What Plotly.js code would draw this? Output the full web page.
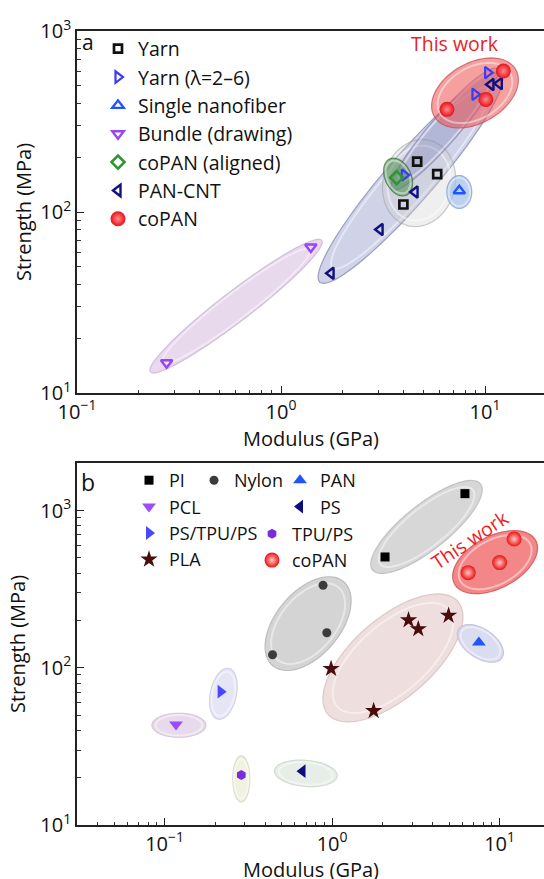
<!DOCTYPE html>
<html><head><meta charset="utf-8">
<script src="https://cdn.plot.ly/plotly-3.0.1.min.js"></script>
<style>html,body{margin:0;padding:0;overflow:hidden;background:#fff}</style>
</head><body><div id="chart"></div>
<script>
// ---------- Panel a data (Modulus GPa, Strength MPa) ----------
const aYarnX = [4.65, 5.83, 3.98];
const aYarnY = [190, 162, 110];
const aYarnLamX = [10.3, 8.93, 4.02];
const aYarnLamY = [589, 447, 160];
const aSingleX = [7.48];
const aSingleY = [131];
const aBundleX = [1.40, 0.275];
const aBundleY = [64.1, 14.7];
const aAlignedX = [3.69];
const aAlignedY = [155];
const aPanCntX = [10.7, 11.75, 4.54, 3.06, 1.76];
const aPanCntY = [506, 512, 129, 80, 45.9];
const aCoPanX = [12.3, 10.1, 6.51];
const aCoPanY = [601, 419, 369];

// ---------- Panel b data ----------
const bPIx = [2.07, 6.21];
const bPIy = [507, 1282];
const bNylonX = [0.883, 0.93, 0.441];
const bNylonY = [335, 167, 121];
const bPANx = [7.52];
const bPANy = [145];
const bPCLx = [0.117];
const bPCLy = [43.6];
const bPUx = [];
const bPUy = [];
const bPSx = [0.666];
const bPSy = [22.0];
const bPSTPUx = [0.216];
const bPSTPUy = [70.5];
const bTPUPSx = [0.287];
const bTPUPSy = [20.8];
const bPLAx = [0.986, 1.77, 2.86, 3.27, 4.96];
const bPLAy = [98.6, 53.2, 201, 176.5, 215];
const bCoPanX = [6.49, 10.0, 12.2];
const bCoPanY = [403, 467, 659];

// tick labels
const xTickVals = [0.1, 1, 10];
const xTickText = ['10<sup>\u22121</sup>', '10<sup>0</sup>', '10<sup>1</sup>'];
const yTickVals = [10, 100, 1000];
const yTickText = ['10<sup>1</sup>', '10<sup>2</sup>', '10<sup>3</sup>'];

// ---------- layout geometry ----------
const FONT = 'Open Sans, sans-serif';
const W = 548, H = 883, ML = 77, MR = 3, MT = 31, MB = 58;
const PLOT_BOTTOM = H - MB; // 825
const plotW = W - ML - MR, plotH = H - MT - MB;
const xaRange = [-1, -1 + plotW / 204];
const xbRange = [-1.523, -1.523 + plotW / 167.5];
const yaDom = [1 - 362 / plotH, 1], ybDom = [0, 362 / plotH];
const yaRange = [1, 3], ybRange = [1, 1 + 362 / 157.2];
const pxPerDec = {
  a: {x: plotW / (xaRange[1] - xaRange[0]), y: plotH * (yaDom[1] - yaDom[0]) / (yaRange[1] - yaRange[0])},
  b: {x: plotW / (xbRange[1] - xbRange[0]), y: plotH * (ybDom[1] - ybDom[0]) / (ybRange[1] - ybRange[0])}
};
const px2paperX = p => (p - ML) / plotW;
const px2paperY = p => (PLOT_BOTTOM - p) / plotH;

// ---------- highlight regions (ellipses: centre in data units, semi-axes in px, angle in deg) ----------
const regionsA = [
  {cx: 0.602, cy: 30.2, a: 108, b: 15, ang: 37.5, fill: 'rgba(226,208,232,0.8)', line: 'rgba(205,185,215,0.9)'},
  {cx: 4.31, cy: 154, a: 138, b: 24, ang: 49, fill: 'rgba(150,158,205,0.45)', line: 'rgba(120,125,170,0.7)'},
  {cx: 4.75, cy: 144.5, a: 44, b: 36, ang: 75, fill: 'rgba(210,210,210,0.35)', line: 'rgba(160,160,160,0.55)'},
  {cx: 6.33, cy: 287, a: 80, b: 14, ang: 49, fill: 'rgba(110,115,175,0.3)', line: 'rgba(100,100,160,0.45)'},
  {cx: 3.75, cy: 156, a: 20, b: 13, ang: -65, fill: 'rgba(70,140,70,0.55)', line: 'rgba(60,110,60,0.7)'},
  {cx: 7.48, cy: 129, a: 16.5, b: 12.5, ang: 90, fill: 'rgba(160,188,232,0.7)', line: 'rgba(135,165,212,0.8)'},
  {cx: 8.93, cy: 454.5, a: 47, b: 30, ang: 30, fill: 'rgba(236,80,80,0.55)', line: 'rgba(195,80,90,0.75)'}
];
const regionsB = [
  {cx: 3.66, cy: 787, a: 69, b: 22.5, ang: 38.6, fill: 'rgba(208,208,208,0.85)', line: 'rgba(190,190,190,0.9)'},
  {cx: 9.40, cy: 470, a: 46, b: 26, ang: 28, fill: 'rgba(240,105,105,0.8)', line: 'rgba(210,90,90,0.9)'},
  {cx: 0.719, cy: 191, a: 55, b: 32, ang: 50, fill: 'rgba(205,205,205,0.85)', line: 'rgba(185,185,185,0.9)'},
  {cx: 2.307, cy: 115.6, a: 86, b: 40, ang: 41, fill: 'rgba(234,214,214,0.8)', line: 'rgba(218,196,196,0.9)'},
  {cx: 7.68, cy: 143, a: 26, b: 14.5, ang: -34, fill: 'rgba(212,214,236,0.85)', line: 'rgba(192,194,222,0.9)'},
  {cx: 0.2244, cy: 68.3, a: 26, b: 13, ang: 78, fill: 'rgba(226,226,245,0.9)', line: 'rgba(206,206,232,0.9)'},
  {cx: 0.1217, cy: 43.1, a: 27, b: 12, ang: 0, fill: 'rgba(228,214,232,0.9)', line: 'rgba(210,195,218,0.9)'},
  {cx: 0.287, cy: 19.65, a: 23, b: 8.5, ang: 90, fill: 'rgba(240,240,222,0.9)', line: 'rgba(215,215,195,0.9)'},
  {cx: 0.6966, cy: 21.3, a: 31.5, b: 13, ang: -5, fill: 'rgba(228,236,228,0.9)', line: 'rgba(205,215,205,0.9)'}
];

function ellipsePath(r, sc, k) {
  const clx = Math.log10(r.cx), cly = Math.log10(r.cy), th = r.ang * Math.PI / 180;
  let s = '';
  for (let i = 0; i <= 90; i++) {
    const t = i / 90 * 2 * Math.PI;
    const ca = r.a * k * Math.cos(t), sb = r.b * k * Math.sin(t);
    const dx = ca * Math.cos(th) - sb * Math.sin(th);
    const dy = ca * Math.sin(th) + sb * Math.cos(th);
    const x = Math.pow(10, clx + dx / sc.x), y = Math.pow(10, cly + dy / sc.y);
    s += (i ? 'L' : 'M') + x.toFixed(6) + ',' + y.toFixed(6);
  }
  return s + 'Z';
}
const shapes = [];
function addRegions(list, xref, yref, sc) {
  list.forEach(r => {
    shapes.push({type: 'path', xref, yref, layer: 'below', path: ellipsePath(r, sc, 1),
      fillcolor: r.fill, line: {color: r.line, width: 1.2}});
    shapes.push({type: 'path', xref, yref, layer: 'below', path: ellipsePath(r, sc, 0.86),
      fillcolor: 'rgba(0,0,0,0)', line: {color: 'rgba(255,255,255,0.45)', width: 2}});
  });
}
addRegions(regionsA, 'x', 'y', pxPerDec.a);
addRegions(regionsB, 'x2', 'y2', pxPerDec.b);

// ---------- traces ----------
function tr(name, x, y, marker, ax, legend) {
  return {type: 'scatter', mode: 'markers', name, x, y, marker, legend,
    xaxis: ax === 'a' ? 'x' : 'x2', yaxis: ax === 'a' ? 'y' : 'y2', hoverinfo: 'x+y+name'};
}
const data = [
  tr('Yarn', aYarnX, aYarnY, {symbol: 'square-open', size: 8, color: '#111', line: {width: 2.7, color: '#111'}}, 'a', 'legend'),
  tr('Yarn (\u03bb=2\u20136)', aYarnLamX, aYarnLamY, {symbol: 'triangle-right-open', size: 10, color: '#3c3cf0', line: {width: 2.2, color: '#3c3cf0'}}, 'a', 'legend'),
  tr('Single nanofiber', aSingleX, aSingleY, {symbol: 'triangle-up-open', size: 10, color: '#1f55ff', line: {width: 2.4, color: '#1f55ff'}}, 'a', 'legend'),
  tr('Bundle (drawing)', aBundleX, aBundleY, {symbol: 'triangle-down-open', size: 10, color: '#9646f5', line: {width: 2.4, color: '#9646f5'}}, 'a', 'legend'),
  tr('coPAN (aligned)', aAlignedX, aAlignedY, {symbol: 'diamond-open', size: 10, color: '#2e962e', line: {width: 2.6, color: '#2e962e'}}, 'a', 'legend'),
  tr('PAN-CNT', aPanCntX, aPanCntY, {symbol: 'triangle-left-open', size: 10, color: '#101080', line: {width: 2.4, color: '#101080'}}, 'a', 'legend'),
  tr('coPAN', aCoPanX, aCoPanY, {symbol: 'circle', size: 15, color: '#e8101a', gradient: {type: 'radial', color: '#ff8c8c'}, line: {width: 0}}, 'a', 'legend'),

  tr('PI', bPIx, bPIy, {symbol: 'square', size: 9, color: '#000'}, 'b', 'legend2'),
  tr('PCL', bPCLx, bPCLy, {symbol: 'triangle-down', size: 12, color: '#9b4dff'}, 'b', 'legend2'),
  tr('PS/TPU/PS', bPSTPUx, bPSTPUy, {symbol: 'triangle-right', size: 12, color: '#4848ff'}, 'b', 'legend2'),
  tr('PLA', bPLAx, bPLAy, {symbol: 'star', size: 13, color: '#4a0c0c'}, 'b', 'legend2'),
  tr('Nylon', bNylonX, bNylonY, {symbol: 'circle', size: 9, color: '#3c3c3c'}, 'b', 'legend3'),
  tr('PU', bPUx, bPUy, {symbol: 'diamond', size: 11, color: '#1f9a1f'}, 'b', 'legend3'),
  tr('TPU/PS', bTPUPSx, bTPUPSy, {symbol: 'hexagon', size: 10, color: '#7a2be0'}, 'b', 'legend4'),
  tr('coPAN', bCoPanX, bCoPanY, {symbol: 'circle', size: 15, color: '#ee1111', gradient: {type: 'radial', color: '#ffc8c8'}, line: {width: 0}}, 'b', 'legend4'),
  tr('PAN', bPANx, bPANy, {symbol: 'triangle-up', size: 12, color: '#1f55ff'}, 'b', 'legend5'),
  tr('PS', bPSx, bPSy, {symbol: 'triangle-left', size: 12, color: '#0d0d80'}, 'b', 'legend5')
];

// ---------- axes ----------
const minorVals = [];
for (let d = -2; d <= 3; d++) for (let k = 2; k <= 9; k++) minorVals.push(k * Math.pow(10, d));
function axis(extra) {
  return Object.assign({
    type: 'log', showline: true, linecolor: '#222', linewidth: 1.8, mirror: true,
    ticks: 'inside', ticklen: 7, tickwidth: 1, tickcolor: '#222', showgrid: false, zeroline: false,
    tickmode: 'array', tickfont: {family: FONT, size: 20, color: '#111'},
    minor: {tickmode: 'array', tickvals: minorVals, ticks: 'inside', ticklen: 3.5, tickwidth: 1, tickcolor: '#333', showgrid: false}
  }, extra);
}
const titleFont = {family: FONT, size: 20, color: '#111'};
const legendBase = {bgcolor: 'rgba(0,0,0,0)', font: {family: FONT, size: 18, color: '#111'},
  xanchor: 'left', yanchor: 'top', tracegroupgap: 0, itemclick: false};

const layout = {
  width: W, height: H, margin: {l: ML, r: MR, t: MT, b: MB},
  paper_bgcolor: '#fff', plot_bgcolor: 'rgba(0,0,0,0)', font: {family: FONT, color: '#111'},
  showlegend: true, shapes,
  xaxis: axis({anchor: 'y', domain: [0, 1], range: xaRange, tickvals: xTickVals, ticktext: xTickText,
    title: {text: 'Modulus (GPa)', font: titleFont, standoff: 2}}),
  yaxis: axis({anchor: 'x', domain: yaDom, range: yaRange, tickvals: yTickVals, ticktext: yTickText,
    title: {text: 'Strength (MPa)', font: titleFont, standoff: 3}}),
  xaxis2: axis({anchor: 'y2', domain: [0, 1], range: xbRange, tickvals: xTickVals, ticktext: xTickText,
    ticklabelstandoff: 0, title: {text: 'Modulus (GPa)', font: titleFont, standoff: 1}}),
  yaxis2: axis({anchor: 'x2', domain: ybDom, range: ybRange, tickvals: yTickVals, ticktext: yTickText,
    title: {text: 'Strength (MPa)', font: titleFont, standoff: 9}}),
  legend: Object.assign({}, legendBase, {font: {family: FONT, size: 19.5, color: '#111'}, x: px2paperX(98), y: px2paperY(29.5)}),
  legend2: Object.assign({}, legendBase, {x: px2paperX(129), y: px2paperY(462)}),
  legend3: Object.assign({}, legendBase, {x: px2paperX(194), y: px2paperY(462)}),
  legend4: Object.assign({}, legendBase, {x: px2paperX(252), y: px2paperY(515.5)}),
  legend5: Object.assign({}, legendBase, {x: px2paperX(280), y: px2paperY(462)}),
  annotations: [
    {text: 'a', xref: 'paper', yref: 'paper', x: px2paperX(88), y: px2paperY(42), xanchor: 'center', yanchor: 'middle', showarrow: false, font: {family: FONT, size: 21, color: '#111'}},
    {text: 'b', xref: 'paper', yref: 'paper', x: px2paperX(88), y: px2paperY(482), xanchor: 'center', yanchor: 'middle', showarrow: false, font: {family: FONT, size: 23, color: '#111'}},
    {text: 'This work', xref: 'paper', yref: 'paper', x: px2paperX(455), y: px2paperY(43.5), xanchor: 'center', yanchor: 'middle', showarrow: false, font: {family: FONT, size: 19.5, color: '#e81e25'}},
    {text: 'This work', xref: 'paper', yref: 'paper', x: px2paperX(470), y: px2paperY(539.5), xanchor: 'center', yanchor: 'middle', showarrow: false, textangle: -34, font: {family: FONT, size: 19.5, color: '#ee1c24'}}
  ]
};

Plotly.newPlot('chart', data, layout, {displayModeBar: false, staticPlot: true});
</script>
</body></html>
